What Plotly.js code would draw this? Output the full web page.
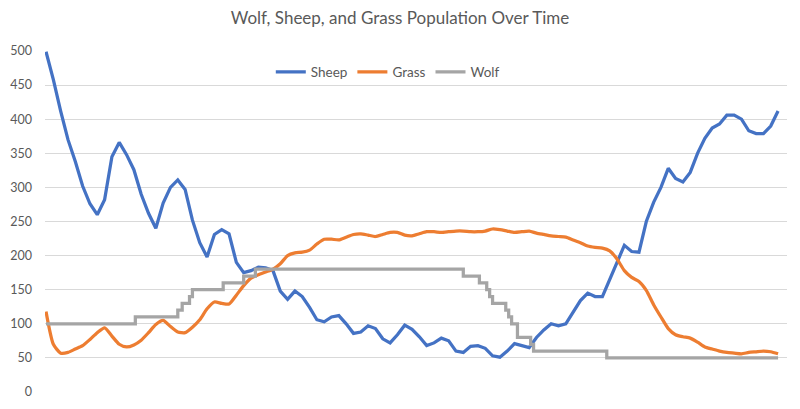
<!DOCTYPE html>
<html>
<head>
<meta charset="utf-8">
<script src="https://cdn.plot.ly/plotly-3.0.1.min.js"></script>
<style>
  html, body { margin: 0; padding: 0; background: #ffffff; }
  #chart { width: 800px; height: 409px; }
</style>
</head>
<body>
<div id="chart"></div>
<script>
// Time steps (every 5 ticks)
const timeSteps = [];
for (let t = 0; t <= 500; t += 5) timeSteps.push(t);

const sheep = [
  499, 458, 412, 370, 338, 302, 276, 260, 282, 345,
  366, 348, 326, 290, 262, 240, 277, 300, 311, 297,
  252, 219, 198, 231, 238, 232, 190, 175, 178, 183,
  182, 178, 148, 136, 148, 140, 124, 106, 103, 110,
  112, 100, 86, 88, 97, 93, 78, 72, 84, 98,
  92, 81, 68, 72, 79, 75, 60, 58, 67, 68,
  64, 53, 51, 60, 71, 68, 65, 80, 91, 100,
  97, 100, 118, 134, 145, 140, 140, 166, 192, 215,
  206, 205, 250, 278, 300, 328, 313, 308, 322, 350,
  372, 387, 393, 406, 406, 400, 383, 379, 379, 390,
  412
];

const grass = [
  118, 70, 57, 58, 63, 68, 77, 87, 94, 82,
  70, 66, 69, 76, 87, 99, 105, 96, 88, 87,
  95, 106, 122, 132, 130, 129, 142, 156, 167, 172,
  176, 180, 188, 200, 204, 205, 208, 217, 224, 224,
  223, 227, 231, 232, 230, 228, 231, 234, 234, 230,
  229, 232, 235, 235, 234, 235, 236, 236, 235, 235,
  236, 239, 238, 236, 234, 235, 236, 233, 231, 229,
  228, 227, 223, 219, 214, 212, 211, 207, 195, 178,
  168, 162, 149, 128, 110, 93, 84, 81, 79, 73,
  66, 63, 60, 58, 57, 56, 58, 59, 60, 59,
  56
];

// Wolf population changes (step times and levels)
const wolfTime  = [0, 61, 90, 93, 98, 100, 121, 135, 143, 285, 296, 301, 303, 305, 314, 316, 318, 322, 331, 333, 383, 500];
const wolfValue = [100, 110, 120, 130, 140, 150, 160, 170, 180, 170, 160, 150, 140, 130, 120, 110, 100, 80, 70, 60, 50, 50];

const yTicks = [0, 50, 100, 150, 200, 250, 300, 350, 400, 450, 500];

const FONT = 'Lato, "Open Sans", sans-serif';

const traces = [
  { x: timeSteps, y: sheep, name: 'Sheep', type: 'scatter', mode: 'lines',
    line: { color: '#4472C4', width: 3.25 } },
  { x: timeSteps, y: grass, name: 'Grass', type: 'scatter', mode: 'lines',
    line: { color: '#ED7D31', width: 3.25, shape: 'spline', smoothing: 0.6 } },
  { x: wolfTime, y: wolfValue, name: 'Wolf', type: 'scatter', mode: 'lines',
    line: { color: '#A5A5A5', width: 3.25, shape: 'hv' } }
];

const layout = {
  width: 800, height: 409,
  paper_bgcolor: '#ffffff', plot_bgcolor: '#ffffff',
  margin: { l: 45, r: 13, t: 51, b: 17 },
  font: { family: FONT, color: '#595959' },
  title: { text: 'Wolf, Sheep, and Grass Population Over Time',
           font: { family: FONT, size: 17, color: '#595959' },
           x: 0.5, xanchor: 'center', y: 0.955, yanchor: 'middle' },
  showlegend: true,
  legend: { orientation: 'h', x: 0.462, xanchor: 'center', y: 0.938, yanchor: 'middle',
            font: { family: FONT, size: 13.5, color: '#595959' },
            bgcolor: 'rgba(0,0,0,0)', itemwidth: 30, traceorder: 'normal' },
  xaxis: { range: [-0.7, 506.1], showticklabels: false, showgrid: false,
           zeroline: false, showline: false, ticks: '' },
  yaxis: { range: [0, 500], tickvals: yTicks, ticktext: yTicks.map(String),
           showgrid: true, gridcolor: '#d9d9d9', gridwidth: 1,
           zeroline: false, showline: false, ticks: '',
           ticklabelstandoff: 12,
           tickfont: { family: FONT, size: 12.5, color: '#595959' } }
};

Plotly.newPlot('chart', traces, layout, { displayModeBar: false, staticPlot: true });
</script>
</body>
</html>
